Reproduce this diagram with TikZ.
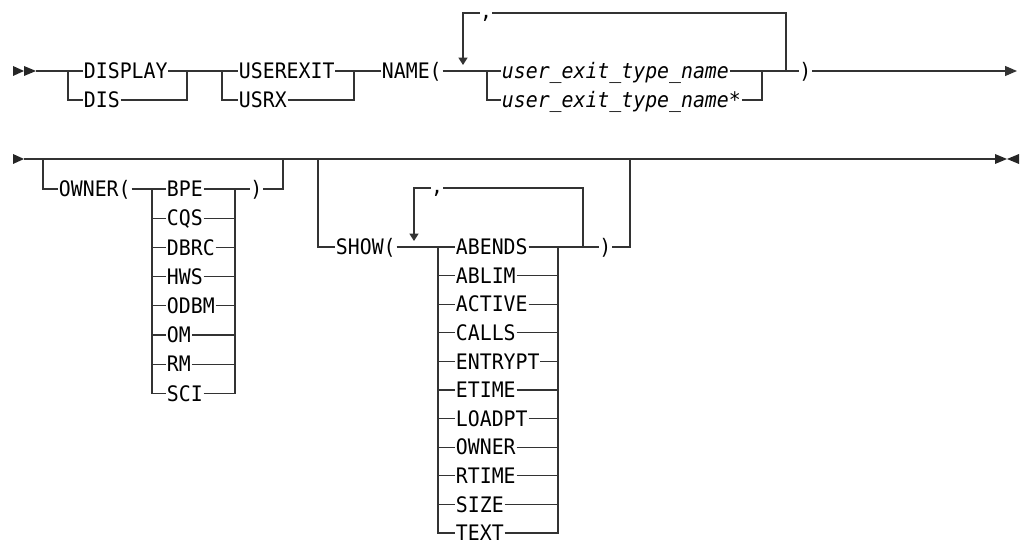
\documentclass[tikz,border=0pt]{standalone}
\usepackage{fontspec}
\newfontfamily\rrfont[FakeStretch=0.93]{DejaVu Sans Mono}
\usetikzlibrary{arrows.meta}

\begin{document}
\begin{tikzpicture}[
    x=0.75pt, y=-0.75pt,
    % Estilos de texto
    kw/.style={font=\rrfont\fontsize{16}{19}\selectfont, inner xsep=0.5pt, inner ysep=0pt, text height=11.7pt, text depth=0pt, anchor=west},
    var/.style={kw, font=\rrfont\itshape\fontsize{16}{19}\selectfont},
    sep label/.style={font=\rrfont\fontsize{16}{19}\selectfont, inner sep=0pt, anchor=base},
    % Estilos de lineas
    rail/.style={line width=0.9pt, black!80},
    loop arrow/.style={rail, -{Triangle[width=6.75pt, length=5.5pt]}},
    end arrow/.style={rail, -{Triangle[width=7.5pt, length=9pt]}},
    marker/.style={fill=black!85}
]
    \useasboundingbox (0,0) rectangle (1022,545);

    % =====================================================
    % Fila 1
    % =====================================================
    \coordinate (s1) at (36,71);
    \fill[marker] (13,66) -- (24,71) -- (13,76) -- cycle;
    \fill[marker] (24,66) -- (36,71) -- (24,76) -- cycle;

    \coordinate (ja) at (68,71);
    \coordinate (jb) at (187,71);
    \node[kw] (display) at (83,71) {DISPLAY};
    \node[kw] (dis) at (83,100) {DIS};

    \coordinate (jc) at (222,71);
    \coordinate (jd) at (354,71);
    \node[kw] (userexit) at (238,71) {USEREXIT};
    \node[kw] (usrx) at (238,100) {USRX};

    \node[kw] (name) at (381,71) {NAME(};

    \coordinate (je) at (487,71);
    \coordinate (jf) at (762,71);
    \node[var] (uetn) at (501,71) {user\_exit\_type\_name};
    \node[var] (uetnstar) at (501,100) {user\_exit\_type\_name*};

    \node[kw] (close1) at (798.5,71) {)};
    \coordinate (end1) at (1017,71);

    % bucle de repeticion
    \coordinate (loopR1) at (786,71);
    \coordinate (loopL1) at (463,65);
    \coordinate (top1) at (0,13);
    \node[sep label] (comma1) at (486,19) {,};

    \draw[rail] (s1) -- (display.west);
    \draw[rail] (display.east) -- (userexit.west);
    \draw[rail] (ja) |- (dis.west);
    \draw[rail] (dis.east) -| (jb);
    \draw[rail] (userexit.east) -- (name.west);
    \draw[rail] (jc) |- (usrx.west);
    \draw[rail] (usrx.east) -| (jd);
    \draw[rail] (name.east) -- (uetn.west);
    \draw[rail] (je) |- (uetnstar.west);
    \draw[rail] (uetnstar.east) -| (jf);
    \draw[rail] (uetn.east) -- (close1.west);
    \draw[rail] (loopR1) |- (comma1.east |- top1);
    \draw[loop arrow] (comma1.west |- top1) -| (loopL1);
    \draw[end arrow] (close1.east) -- (end1);

    % =====================================================
    % Fila 2
    % =====================================================
    \coordinate (s2) at (24,159);
    \coordinate (e2) at (995,159);
    \fill[marker] (13,154) -- (24,159) -- (13,164) -- cycle;
    \fill[marker] (995,154) -- (1007,159) -- (995,164) -- cycle;
    \fill[marker] (1019,154) -- (1007,159) -- (1019,164) -- cycle;
    \draw[rail] (s2) -- (e2);

    % OWNER(
    \coordinate (jg) at (43,159);
    \coordinate (jh) at (283,159);
    \coordinate (jol) at (152,189);
    \coordinate (jor) at (235,189);
    \node[kw] (owner) at (58,189) {OWNER(};
    \foreach \o [count=\i from 0] in {BPE, CQS, DBRC, HWS, ODBM, OM, RM, SCI} {
        \node[kw] (own-\o) at (166,{189+29.2*\i}) {\o};
    }
    \node[kw] (close2) at (249.5,189) {)};

    \draw[rail] (jg) |- (owner.west);
    \draw[rail] (owner.east) -- (own-BPE.west);
    \draw[rail] (own-BPE.east) -- (close2.west);
    \foreach \o in {CQS, DBRC, HWS, ODBM, OM, RM, SCI} {
        \draw[rail] (jol) |- (own-\o.west);
        \draw[rail] (own-\o.east) -| (jor);
    }
    \draw[rail] (close2.east) -| (jh);

    % SHOW(
    \coordinate (ji) at (318,159);
    \coordinate (jj) at (630,159);
    \coordinate (jsl) at (438,247);
    \coordinate (jsr) at (558,247);
    \node[kw] (show) at (335,247) {SHOW(};
    \foreach \s [count=\i from 0] in {ABENDS, ABLIM, ACTIVE, CALLS, ENTRYPT, ETIME, LOADPT, OWNER, RTIME, SIZE, TEXT} {
        \node[kw] (shw-\s) at (455,{247+28.6*\i}) {\s};
    }
    \node[kw] (close3) at (598.5,247) {)};

    \coordinate (loopR2) at (583,247);
    \coordinate (loopL2) at (414,241);
    \coordinate (top2) at (0,188);
    \node[sep label] (comma2) at (437,194) {,};

    \draw[rail] (ji) |- (show.west);
    \draw[rail] (show.east) -- (shw-ABENDS.west);
    \draw[rail] (shw-ABENDS.east) -- (close3.west);
    \foreach \s in {ABLIM, ACTIVE, CALLS, ENTRYPT, ETIME, LOADPT, OWNER, RTIME, SIZE, TEXT} {
        \draw[rail] (jsl) |- (shw-\s.west);
        \draw[rail] (shw-\s.east) -| (jsr);
    }
    \draw[rail] (close3.east) -| (jj);
    \draw[rail] (loopR2) |- (comma2.east |- top2);
    \draw[loop arrow] (comma2.west |- top2) -| (loopL2);
\end{tikzpicture}
\end{document}
